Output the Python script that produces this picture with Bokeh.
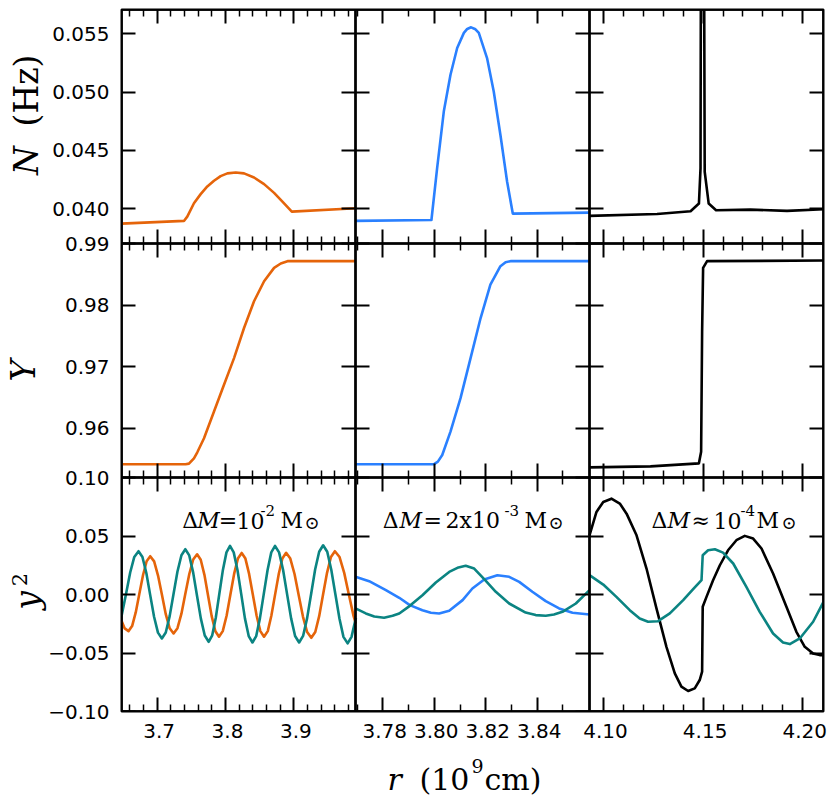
import math
from bokeh.plotting import figure
from bokeh.layouts import row, column
from bokeh.models import Range1d, LinearAxis, FixedTicker, CustomJSTickFormatter, Label
from bokeh.core.properties import value
from bokeh.embed import file_html
from bokeh.resources import INLINE

# ---------------- data ----------------
# Row 1: Brunt-Vaisala frequency N (Hz)
r_N_1 = [3.6480, 3.7393, 3.7441, 3.7539, 3.7637, 3.7734, 3.7832, 3.7929, 3.8027, 3.8149,
         3.8271, 3.8417, 3.8564, 3.8710, 3.8832, 3.8969, 3.9906]
N_1 = [0.03871, 0.03894, 0.03931, 0.04046, 0.04124, 0.04190, 0.04239, 0.04279, 0.04302, 0.04310,
       0.04302, 0.04267, 0.04210, 0.04135, 0.04060, 0.03974, 0.04003]
r_N_2 = [3.7694, 3.7989, 3.8011, 3.8037, 3.8063, 3.8089, 3.8115, 3.8128, 3.8143, 3.8160,
         3.8173, 3.8205, 3.8231, 3.8257, 3.8283, 3.8305, 3.8603]
N_2 = [0.03894, 0.03902, 0.04345, 0.04833, 0.05150, 0.05379, 0.05509, 0.05543, 0.05557, 0.05540,
       0.05509, 0.05293, 0.05006, 0.04632, 0.04230, 0.03957, 0.03965]
r_N_3 = [4.0930, 4.1269, 4.1437, 4.1479, 4.1487, 4.1492, 4.1500, 4.1508, 4.1528, 4.1565, 4.1737,
         4.1921, 4.2104]
N_3 = [0.03937, 0.03954, 0.03977, 0.04043, 0.04345, 0.09000, 0.09000, 0.04316, 0.04043, 0.03986,
       0.03991, 0.03980, 0.03994]

# Row 2: helium mass fraction Y
r_Y_1 = [3.6480, 3.7417, 3.7466, 3.7539, 3.7588, 3.7686, 3.7832, 3.7978, 3.8125, 3.8271,
         3.8417, 3.8564, 3.8710, 3.8808, 3.8906, 3.9906]
Y_1 = [0.95414, 0.95414, 0.95425, 0.95512, 0.95609, 0.95837, 0.96271, 0.96705, 0.97139, 0.97628,
       0.98062, 0.98387, 0.98604, 0.98675, 0.98713, 0.98713]
r_Y_2 = [3.7694, 3.7998, 3.8014, 3.8031, 3.8063, 3.8102, 3.8141, 3.8180, 3.8218, 3.8257,
         3.8277, 3.8296, 3.8603]
Y_2 = [0.95414, 0.95414, 0.95458, 0.95566, 0.95946, 0.96488, 0.97139, 0.97790, 0.98333, 0.98631,
       0.98696, 0.98713, 0.98713]
r_Y_3 = [4.0930, 4.1236, 4.1479, 4.1490, 4.1495, 4.1500, 4.1520, 4.2104]
Y_3 = [0.95365, 0.95381, 0.95430, 0.95620, 0.97573, 0.98604, 0.98713, 0.98724]

# Row 3: eigenfunction y2
r_y2_1a = [3.6480, 3.6527, 3.6582, 3.6635, 3.6688, 3.6741, 3.6795, 3.6847, 3.6900, 3.6957,
           3.7014, 3.7071, 3.7127, 3.7184, 3.7241, 3.7298, 3.7356, 3.7413, 3.7471, 3.7528,
           3.7585, 3.7638, 3.7692, 3.7745, 3.7798, 3.7852, 3.7905, 3.7960, 3.8016, 3.8071,
           3.8126, 3.8181, 3.8237, 3.8291, 3.8345, 3.8400, 3.8455, 3.8509, 3.8563, 3.8618,
           3.8670, 3.8724, 3.8779, 3.8831, 3.8886, 3.8947, 3.9009, 3.9070, 3.9132, 3.9193,
           3.9254, 3.9312, 3.9369, 3.9426, 3.9484, 3.9541, 3.9599, 3.9667, 3.9735, 3.9803,
           3.9872, 3.9906]
y2_1a = [-0.0225, -0.0290, -0.0313, -0.0270, -0.0153, 0.0007, 0.0167, 0.0284, 0.0327, 0.0283,
         0.0162, -0.0003, -0.0168, -0.0289, -0.0333, -0.0288, -0.0164, 0.0006, 0.0175, 0.0299,
         0.0344, 0.0297, 0.0168, -0.0009, -0.0185, -0.0314, -0.0361, -0.0313, -0.0182, -0.0003,
         0.0176, 0.0307, 0.0355, 0.0307, 0.0176, -0.0003, -0.0182, -0.0313, -0.0361, -0.0313,
         -0.0182, -0.0003, 0.0177, 0.0308, 0.0356, 0.0307, 0.0175, -0.0007, -0.0189, -0.0321,
         -0.0370, -0.0320, -0.0185, 0.0000, 0.0185, 0.0320, 0.0370, 0.0320, 0.0185, 0.0000,
         -0.0185, -0.0250]
r_y2_1b = [3.6480, 3.6546, 3.6607, 3.6667, 3.6729, 3.6786, 3.6843, 3.6899, 3.6956, 3.7013,
           3.7070, 3.7127, 3.7184, 3.7241, 3.7298, 3.7356, 3.7413, 3.7470, 3.7527, 3.7583,
           3.7640, 3.7697, 3.7754, 3.7806, 3.7858, 3.7910, 3.7962, 3.8014, 3.8066, 3.8120,
           3.8175, 3.8230, 3.8284, 3.8339, 3.8394, 3.8449, 3.8503, 3.8559, 3.8615, 3.8669,
           3.8724, 3.8783, 3.8842, 3.8900, 3.8959, 3.9017, 3.9076, 3.9134, 3.9193, 3.9252,
           3.9310, 3.9369, 3.9427, 3.9487, 3.9546, 3.9606, 3.9666, 3.9724, 3.9785, 3.9842,
           3.9906]
y2_1b = [-0.0185, 0.0005, 0.0188, 0.0321, 0.0370, 0.0320, 0.0184, -0.0003, -0.0190, -0.0326,
         -0.0376, -0.0325, -0.0185, 0.0006, 0.0196, 0.0336, 0.0387, 0.0334, 0.0189, -0.0009,
         -0.0206, -0.0351, -0.0404, -0.0349, -0.0199, 0.0006, 0.0210, 0.0360, 0.0415, 0.0360,
         0.0209, 0.0003, -0.0204, -0.0355, -0.0410, -0.0355, -0.0204, 0.0003, 0.0209, 0.0360,
         0.0415, 0.0360, 0.0209, 0.0003, -0.0204, -0.0355, -0.0410, -0.0354, -0.0202, 0.0006,
         0.0213, 0.0365, 0.0421, 0.0365, 0.0211, 0.0002, -0.0208, -0.0362, -0.0418, -0.0362,
         -0.0200]
r_y2_2a = [3.7694, 3.7747, 3.7812, 3.7864, 3.7905, 3.7954, 3.7987, 3.8019, 3.8058, 3.8110,
           3.8148, 3.8194, 3.8245, 3.8291, 3.8330, 3.8381, 3.8433, 3.8485, 3.8537, 3.8603]
y2_2a = [0.0151, 0.0114, 0.0037, -0.0028, -0.0091, -0.0134, -0.0156, -0.0162, -0.0139, -0.0048,
         0.0051, 0.0128, 0.0165, 0.0151, 0.0108, 0.0023, -0.0057, -0.0119, -0.0156, -0.0171]
r_y2_2b = [3.7694, 3.7734, 3.7767, 3.7805, 3.7838, 3.7864, 3.7905, 3.7954, 3.8006, 3.8058,
           3.8090, 3.8122, 3.8155, 3.8194, 3.8239, 3.8291, 3.8355, 3.8394, 3.8433, 3.8465,
           3.8498, 3.8550, 3.8603]
y2_2b = [-0.0119, -0.0162, -0.0188, -0.0199, -0.0182, -0.0162, -0.0097, -0.0006, 0.0102, 0.0193,
         0.0228, 0.0245, 0.0222, 0.0131, 0.0023, -0.0077, -0.0154, -0.0176, -0.0182, -0.0171,
         -0.0148, -0.0077, 0.0037]
r_y2_3a = [4.0930, 4.0965, 4.0999, 4.1040, 4.1082, 4.1116, 4.1166, 4.1216, 4.1266, 4.1316,
           4.1358, 4.1391, 4.1425, 4.1458, 4.1483, 4.1495, 4.1498, 4.1517, 4.1550, 4.1584,
           4.1625, 4.1667, 4.1709, 4.1751, 4.1793, 4.1851, 4.1918, 4.1968, 4.2010, 4.2052,
           4.2085, 4.2104]
y2_3a = [0.0506, 0.0706, 0.0791, 0.0819, 0.0777, 0.0691, 0.0506, 0.0222, -0.0119, -0.0447,
         -0.0674, -0.0788, -0.0825, -0.0802, -0.0731, -0.0660, -0.0105, -0.0020, 0.0122, 0.0250,
         0.0378, 0.0464, 0.0501, 0.0478, 0.0393, 0.0179, -0.0105, -0.0319, -0.0447, -0.0504,
         -0.0518, -0.0518]
r_y2_3b = [4.0930, 4.0999, 4.1065, 4.1132, 4.1182, 4.1224, 4.1274, 4.1333, 4.1400, 4.1450,
           4.1492, 4.1498, 4.1525, 4.1559, 4.1600, 4.1651, 4.1717, 4.1784, 4.1851, 4.1901,
           4.1935, 4.1985, 4.2052, 4.2104]
y2_3b = [0.0165, 0.0085, -0.0020, -0.0134, -0.0205, -0.0233, -0.0228, -0.0162, -0.0048, 0.0046,
         0.0122, 0.0336, 0.0378, 0.0387, 0.0358, 0.0265, 0.0065, -0.0148, -0.0333, -0.0410,
         -0.0424, -0.0376, -0.0233, -0.0063]

# axes of the panels
x_lims = [(3.648, 3.990), (3.7694, 3.8603), (4.093, 4.2104)]
y_lims = [(0.0370, 0.0571), (0.952, 0.990), (-0.10, 0.10)]
x_major = [[3.7, 3.8, 3.9], [3.78, 3.80, 3.82, 3.84], [4.10, 4.15, 4.20]]
x_minor = [[3.66, 3.68, 3.72, 3.74, 3.76, 3.78, 3.82, 3.84, 3.86, 3.88, 3.92, 3.94, 3.96, 3.98],
           [3.77, 3.79, 3.81, 3.83, 3.85],
           [4.11, 4.12, 4.13, 4.14, 4.16, 4.17, 4.18, 4.19]]
y_major = [[0.040, 0.045, 0.050, 0.055], [0.96, 0.97, 0.98, 0.99], [-0.10, -0.05, 0.00, 0.05, 0.10]]
x_digits = [1, 2, 2]
y_digits = [3, 2, 2]

ORANGE = "#e5640a"
BLUE = "#2a80ff"
TEAL = "#0b8482"
BLACK = "#000000"

series = [
    (0, 0, r_N_1, N_1, ORANGE), (1, 0, r_N_2, N_2, BLUE), (2, 0, r_N_3, N_3, BLACK),
    (0, 1, r_Y_1, Y_1, ORANGE), (1, 1, r_Y_2, Y_2, BLUE), (2, 1, r_Y_3, Y_3, BLACK),
    (0, 2, r_y2_1a, y2_1a, ORANGE), (0, 2, r_y2_1b, y2_1b, TEAL),
    (1, 2, r_y2_2a, y2_2a, BLUE), (1, 2, r_y2_2b, y2_2b, TEAL),
    (2, 2, r_y2_3a, y2_3a, BLACK), (2, 2, r_y2_3b, y2_3b, TEAL),
]

# ---------------- layout constants ----------------
PANEL = 234
FX, FY = 121, 9                  # frame origin on the page
PAD = 2                          # main figure border left / bottom
PAD_R = 4
STRIP_W = FX - PAD               # left strip: y tick labels and row titles
MAIN_W = PAD + 3 * PANEL + PAD_R
MAIN_H = FY + 3 * PANEL + PAD
BOTTOM_H = 86                    # bottom strip: x tick labels and x title
TOTAL_H = MAIN_H + BOTTOM_H
FRAME_BOTTOM = FY + 3 * PANEL
MINUS = "\u2212"

p = figure(frame_width=3 * PANEL, frame_height=3 * PANEL, output_backend="svg",
           toolbar_location=None, x_range=Range1d(0, 3), y_range=Range1d(0, 3),
           x_axis_type=None, y_axis_type=None,
           min_border_left=PAD, min_border_top=FY, min_border_right=PAD_R,
           min_border_bottom=PAD)
p.outline_line_color = "black"
p.outline_line_width = 2
p.background_fill_color = "white"
p.border_fill_color = "white"

for c, (lo, hi) in enumerate(x_lims):
    w = hi - lo
    p.extra_x_ranges[f"c{c}"] = Range1d(lo - c * w, hi + (2 - c) * w)
for r, (lo, hi) in enumerate(y_lims):
    w = hi - lo
    p.extra_y_ranges[f"r{r}"] = Range1d(lo - (2 - r) * w, hi + r * w)

for c, r, xs, ys, col in series:
    p.line(xs, ys, x_range_name=f"c{c}", y_range_name=f"r{r}", line_color=col,
           line_width=2.6, line_join="round")


def style_axis(ax, internal):
    ax.major_tick_in = 14
    ax.major_tick_out = 14 if internal else 0
    ax.minor_tick_in = 7
    ax.minor_tick_out = 7 if internal else 0
    ax.major_tick_line_width = 2
    ax.minor_tick_line_width = 1.5
    ax.major_tick_line_color = "black"
    ax.minor_tick_line_color = "black"
    ax.axis_line_width = 2
    ax.axis_line_color = "black"
    ax.axis_label = None
    ax.major_label_text_color = None


# tick boxes of every panel (frame edges and inner borders)
for c in range(3):
    for loc in (0, 1, 2, 3):
        ax = LinearAxis(x_range_name=f"c{c}", fixed_location=loc,
                        ticker=FixedTicker(ticks=x_major[c], minor_ticks=x_minor[c]))
        style_axis(ax, loc in (1, 2))
        p.add_layout(ax, "above" if loc == 3 else "below")
for r in range(3):
    for loc in (0, 1, 2, 3):
        ax = LinearAxis(y_range_name=f"r{r}", fixed_location=loc,
                        ticker=FixedTicker(ticks=y_major[r], minor_ticks=[]))
        style_axis(ax, loc in (1, 2))
        p.add_layout(ax, "right" if loc == 3 else "left")


def to_frame_x(c, t):
    lo, hi = x_lims[c]
    return c + (t - lo) / (hi - lo)


def to_frame_y(r, t):
    lo, hi = y_lims[r]
    return (2 - r) + (t - lo) / (hi - lo)


bx_pos = [to_frame_x(c, t) for c in range(3) for t in x_major[c]]
bx_lab = [f"{t:.{x_digits[c]}f}" for c in range(3) for t in x_major[c]]
ly_pos = [to_frame_y(r, t) for r in range(3) for t in y_major[r]]
ly_lab = [f"{t:.{y_digits[r]}f}".replace("-", MINUS) for r in range(3) for t in y_major[r]]

LOOKUP = """
let best = -1, bd = 1e9;
for (let i = 0; i < pos.length; i++) {
  const d = Math.abs(pos[i] - tick);
  if (d < bd) { bd = d; best = i; }
}
return bd < 1e-6 ? lab[best] : "";
"""


def label_only_axis(pos, lab, loc, standoff):
    ax = LinearAxis(ticker=FixedTicker(ticks=pos, minor_ticks=[]), fixed_location=loc)
    style_axis(ax, False)
    ax.major_tick_in = 0
    ax.minor_tick_in = 0
    ax.axis_line_color = None
    ax.major_tick_line_color = None
    ax.minor_tick_line_color = None
    ax.formatter = CustomJSTickFormatter(args=dict(pos=pos, lab=lab), code=LOOKUP)
    ax.major_label_text_color = "black"
    ax.major_label_text_font = "DejaVu Sans"
    ax.major_label_text_font_size = "20px"
    ax.major_label_standoff = standoff
    return ax


def put(fig, text, x, y, size, style="normal", angle=0.0, align="left", baseline="alphabetic",
        font="DejaVu Serif"):
    fig.add_layout(Label(x=x, y=y, text=text, text_font=font, text_font_size=f"{size}px",
                         text_font_style=style, angle=angle, text_align=align,
                         text_baseline=baseline, text_color="black"))


def fy(py):
    """page y pixel -> frame units (0 at frame bottom, 3 at frame top)"""
    return 3 - (py - FY) / PANEL


def fx(px):
    """page x pixel -> frame units (0 at frame left, 3 at frame right)"""
    return (px - FX) / PANEL


# mass annotations inside the bottom panels (page pixel positions)
BASE = 520
notes = [
    [("\u0394", 181.7, 0, 22, "normal"), ("M", 196.7, 0, 22, "italic"), ("=", 218.3, 0, 22, "normal"),
     ("10", 236, 0, 22, "normal"), ("-2", 260, -10, 15, "normal"), ("M", 280, 0, 22, "normal"),
     ("\u2299", 304, 2, 18, "normal")],
    [("\u0394", 382.3, 0, 22, "normal"), ("M", 399, 0, 22, "italic"), ("=", 423, 0, 22, "normal"),
     ("2x10", 445, 0, 22, "normal"), ("-3", 504, -10, 15, "normal"), ("M", 524, 0, 22, "normal"),
     ("\u2299", 548, 2, 18, "normal")],
    [("\u0394", 651, 0, 22, "normal"), ("M", 667, 0, 22, "italic"), ("\u2248", 691, 0, 22, "normal"),
     ("10", 713, 0, 22, "normal"), ("-4", 740, -10, 15, "normal"), ("M", 756, 0, 22, "normal"),
     ("\u2299", 781, 2, 18, "normal")],
]
for pieces in notes:
    for text, px, dy, size, style in pieces:
        put(p, text, fx(px), fy(BASE + dy), size, style)

# ---------------- left strip: y tick labels and row titles ----------------
left = figure(frame_width=STRIP_W, frame_height=TOTAL_H, output_backend="svg",
              toolbar_location=None, x_range=Range1d(0, STRIP_W),
              y_range=Range1d(fy(TOTAL_H), fy(0)),
              x_axis_type=None, y_axis_type=None, min_border=0)
left.outline_line_color = None
left.background_fill_color = "white"
left.border_fill_color = "white"
left.add_layout(label_only_axis(ly_pos, ly_lab, FX, 12), "left")

ROT = math.pi / 2
put(left, "N", 26, fy(160), 33, "italic", ROT, "center", "middle")
put(left, "(Hz)", 26, fy(90), 33, "normal", ROT, "center", "middle")
put(left, "Y", 23, fy(370), 33, "italic", ROT, "center", "middle")
put(left, "y", 27, fy(600), 33, "italic", ROT, "center", "middle")
put(left, "2", 19, fy(579), 21, "normal", ROT, "center", "middle")

# ---------------- bottom strip: x tick labels and x title ----------------
bottom = figure(frame_width=MAIN_W, frame_height=BOTTOM_H, output_backend="svg",
                toolbar_location=None,
                x_range=Range1d(fx(STRIP_W), fx(STRIP_W + MAIN_W)),
                y_range=Range1d(0, BOTTOM_H),
                x_axis_type=None, y_axis_type=None, min_border=0)
bottom.outline_line_color = None
bottom.background_fill_color = "white"
bottom.border_fill_color = "white"
bottom.add_layout(label_only_axis(bx_pos, bx_lab, TOTAL_H - FRAME_BOTTOM, 12), "below")

title_parts = [("r", 385, 779, "30px", "italic"), ("(10", 417, 779, "30px", "normal"),
               ("9", 469, 765, "19px", "normal"), ("cm)", 482, 779, "30px", "normal")]
for text, px, py, size, style in title_parts:
    bottom.text(x=[fx(px)], y=[TOTAL_H - py], text=[text], text_font=value("DejaVu Serif"),
                text_font_size=value(size), text_font_style=style, text_color="black",
                text_align="left", text_baseline="alphabetic")

layout = row(left, column(p, bottom))
open("out.html", "w").write(file_html(layout, INLINE))
